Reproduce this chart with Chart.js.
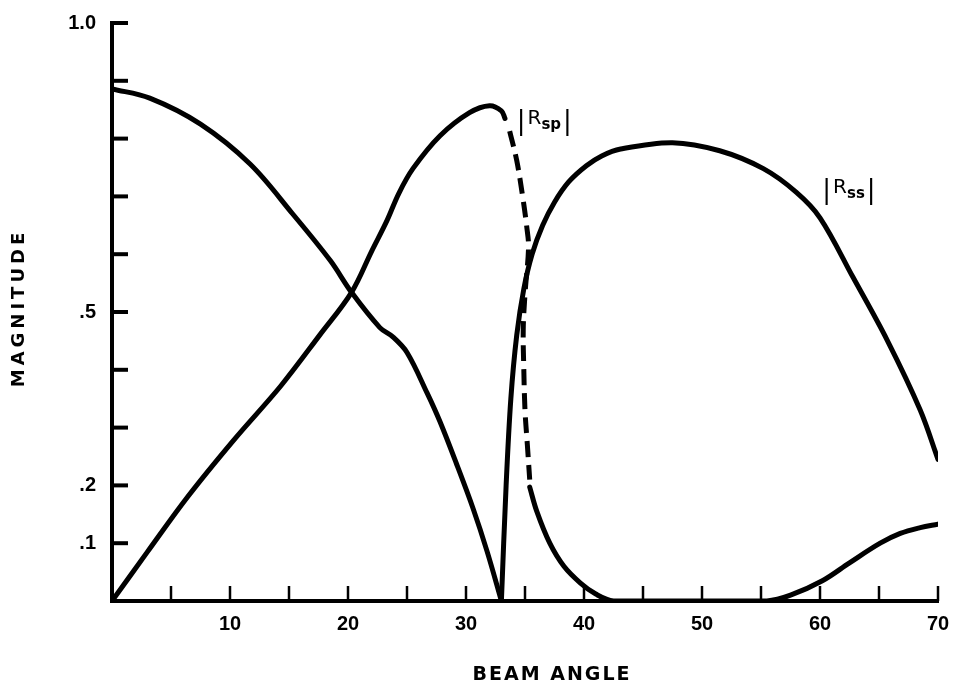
<!DOCTYPE html>
<html>
<head>
<meta charset="utf-8">
<title>Magnitude vs beam angle</title>
<script src="https://cdn.jsdelivr.net/npm/chart.js@4.4.1/dist/chart.umd.min.js"></script>
<style>
  html, body { margin: 0; padding: 0; background: #fff; }
  canvas { display: block; }
</style>
</head>
<body>
<canvas id="magChart" width="976" height="688"></canvas>
<script>
// 1) Data (beam angle in degrees, magnitude)

// |Rsp| rising branch (solid)
const rspRiseAngle = [0, 3, 6.4, 10.3, 14.3, 17.6, 20.3, 22, 23.3, 24.3, 25.5, 27.8, 30.3, 32, 33, 33.3];
const rspRiseMag   = [0, 0.085, 0.18, 0.278, 0.372, 0.46, 0.534, 0.605, 0.658, 0.705, 0.748, 0.805, 0.845, 0.857, 0.848, 0.835];

// |Rsp| falling branch (dashed)
const rspDropAngle = [33.7, 34.3, 34.8, 35.15, 35.3, 35.0, 34.85, 34.9, 35.0, 35.2, 35.4];
const rspDropMag   = [0.813, 0.762, 0.70, 0.647, 0.612, 0.531, 0.47, 0.40, 0.33, 0.27, 0.21];

// |Rsp| tail (solid)
const rspTailAngle = [35.4, 36, 37.1, 38.3, 39.7, 41, 42.5, 48, 55.5, 57.5, 60.2, 62.5, 65.1, 66.8, 68.5, 70];
const rspTailMag   = [0.197, 0.155, 0.1, 0.06, 0.031, 0.012, 0, 0, 0, 0.01, 0.035, 0.066, 0.1, 0.117, 0.127, 0.133];

// |Rss| down to its zero, then back up
const rssLeftAngle = [0, 3.2, 7.5, 11.7, 15.3, 18.5, 20.3, 22.7, 23.8, 25, 26.7, 27.8, 29.2, 30.6, 31.8, 33];
const rssLeftMag   = [0.886, 0.87, 0.825, 0.756, 0.67, 0.589, 0.534, 0.473, 0.457, 0.43, 0.36, 0.31, 0.237, 0.16, 0.085, 0];
const rssRightAngle = [33, 33.4, 33.8, 34.3, 34.9, 35.6, 36.5, 37.5, 38.7, 40.2, 41.5, 43.1, 47.5, 51.5, 55.2, 58, 60, 62.8, 65.7, 68.5, 70];
const rssRightMag   = [0, 0.2, 0.35, 0.46, 0.54, 0.6, 0.65, 0.69, 0.725, 0.753, 0.77, 0.782, 0.793, 0.779, 0.748, 0.707, 0.663, 0.56, 0.451, 0.33, 0.245];

// tick labels
const xLabelValues = [10, 20, 30, 40, 50, 60, 70];
const yLabelValues = [0.1, 0.2, 0.5, 1.0];
const yLabelTexts  = ['.1', '.2', '.5', '1.0'];

// curve names: subscript, anchor angle, anchor magnitude
const curveNames = [
  { sub: 'sp', angle: 34.3, mag: 0.826 },
  { sub: 'ss', angle: 60.2, mag: 0.706 }
];

// 2) Helpers
const pts = (xs, ys) => xs.map((x, i) => ({ x, y: ys[i] }));

const line = (data, dashed) => ({
  data,
  borderColor: '#000',
  borderWidth: 5,
  borderDash: dashed ? [16, 8] : [],
  borderCapStyle: dashed ? 'butt' : 'round',
  pointRadius: 0,
  tension: 0.35,
  fill: false
});

// inward tick marks, curve names and axis titles
const decor = {
  id: 'decor',
  afterDatasetsDraw(chart) {
    const { ctx, chartArea: a, scales: { x, y } } = chart;
    ctx.save();
    ctx.strokeStyle = '#000';
    ctx.fillStyle = '#000';

    ctx.lineWidth = 4;
    y.ticks.forEach(t => {
      if (t.value <= 0) return;
      const py = y.getPixelForValue(t.value);
      ctx.beginPath();
      ctx.moveTo(a.left, py);
      ctx.lineTo(a.left + 16, py);
      ctx.stroke();
    });

    ctx.lineWidth = 2.5;
    x.ticks.forEach(t => {
      if (t.value <= 0) return;
      const px = x.getPixelForValue(t.value);
      ctx.beginPath();
      ctx.moveTo(px, a.bottom);
      ctx.lineTo(px, a.bottom - 15);
      ctx.stroke();
    });

    // |R sub|
    ctx.textAlign = 'left';
    ctx.textBaseline = 'alphabetic';
    curveNames.forEach(n => {
      let px = x.getPixelForValue(n.angle);
      const base = y.getPixelForValue(n.mag);
      ctx.font = '26px "DejaVu Sans"';
      ctx.fillText('|', px, base + 5);
      px += ctx.measureText('|').width + 2;
      ctx.font = '20px "DejaVu Sans"';
      ctx.fillText('R', px, base);
      px += ctx.measureText('R').width;
      ctx.font = 'bold 15px "DejaVu Sans"';
      ctx.fillText(n.sub, px, base + 5);
      px += ctx.measureText(n.sub).width + 2;
      ctx.font = '26px "DejaVu Sans"';
      ctx.fillText('|', px, base + 5);
    });

    // axis titles
    ctx.textAlign = 'center';
    ctx.textBaseline = 'middle';
    ctx.font = 'bold 19px "DejaVu Sans"';
    ctx.letterSpacing = '2px';
    ctx.fillText('BEAM ANGLE', (a.left + a.right) / 2 + 27, 675);

    ctx.translate(19, (a.top + a.bottom) / 2 - 4);
    ctx.rotate(-Math.PI / 2);
    ctx.font = 'bold 18px "DejaVu Sans"';
    ctx.letterSpacing = '4px';
    ctx.fillText('MAGNITUDE', 0, 0);
    ctx.restore();
  }
};

// 3) Chart
const tickFont = { family: '"Liberation Sans", Arial, sans-serif', size: 20, weight: 'bold' };

new Chart(document.getElementById('magChart'), {
  type: 'line',
  data: {
    datasets: [
      line(pts(rspRiseAngle, rspRiseMag), false),
      line(pts(rspDropAngle, rspDropMag), true),
      line(pts(rspTailAngle, rspTailMag), false),
      line(pts(rssLeftAngle, rssLeftMag), false),
      line(pts(rssRightAngle, rssRightMag), false)
    ]
  },
  options: {
    responsive: false,
    animation: false,
    devicePixelRatio: 1,
    layout: { padding: { left: 0, top: 23, right: 38, bottom: 0 } },
    plugins: { legend: { display: false }, tooltip: { enabled: false } },
    scales: {
      x: {
        type: 'linear',
        min: 0,
        max: 70,
        grid: { display: false },
        border: { display: true, color: '#000', width: 4 },
        ticks: {
          stepSize: 5,
          autoSkip: false,
          maxRotation: 0,
          padding: 3,
          color: '#000',
          font: tickFont,
          callback: v => xLabelValues.includes(v) ? String(v) : ''
        },
        afterFit: s => { s.height = 87; }
      },
      y: {
        type: 'linear',
        min: 0,
        max: 1,
        grid: { display: false },
        border: { display: true, color: '#000', width: 4 },
        ticks: {
          stepSize: 0.1,
          autoSkip: false,
          padding: 8,
          color: '#000',
          font: tickFont,
          callback: v => {
            const i = yLabelValues.findIndex(l => Math.abs(l - v) < 1e-6);
            return i >= 0 ? yLabelTexts[i] : '';
          }
        },
        afterFit: s => { s.width = 112; }
      }
    }
  },
  plugins: [decor]
});
</script>
</body>
</html>
